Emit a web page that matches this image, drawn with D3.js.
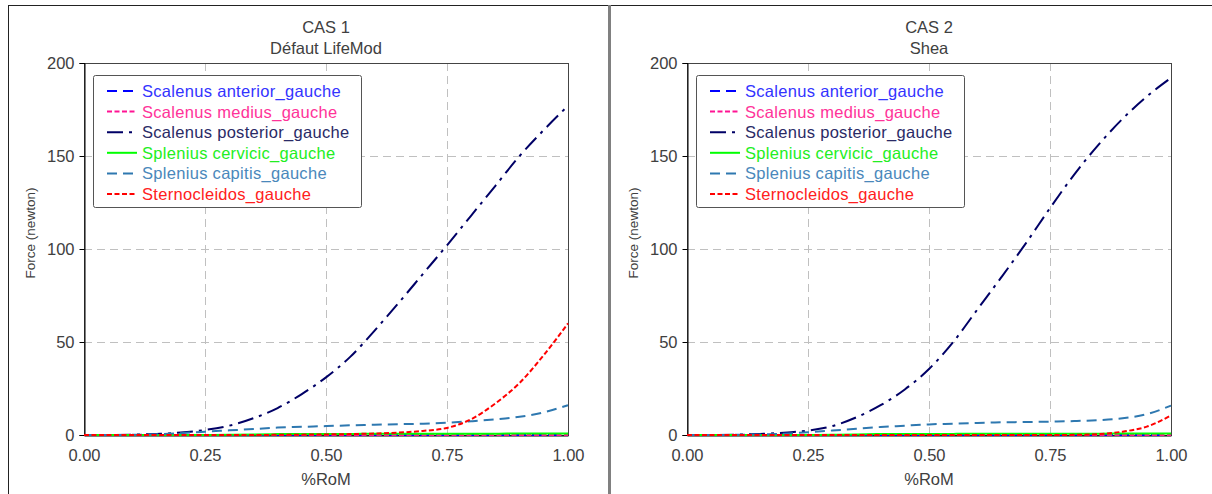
<!DOCTYPE html>
<html><head><meta charset="utf-8">
<script src="https://cdn.jsdelivr.net/npm/d3@7"></script>
<style>body{margin:0;background:#fff}svg{display:block;font-family:"Liberation Sans",Arial,sans-serif}</style>
</head><body><svg id="c" width="1212" height="494"></svg>
<script>
const xValues = [0,0.05,0.1,0.15,0.2,0.25,0.3,0.35,0.4,0.45,0.5,0.55,0.6,0.65,0.7,0.75,0.8,0.85,0.9,0.95,1.0];
const seriesNames = ["Scalenus anterior_gauche","Scalenus medius_gauche","Scalenus posterior_gauche","Splenius cervicic_gauche","Splenius capitis_gauche","Sternocleidos_gauche"];
const xTicks = [0,0.25,0.5,0.75,1.0];
const yTicks = [0,50,100,150,200];
const panelTitles = [["CAS 1","Défaut LifeMod"],["CAS 2","Shea"]];

// CAS 1
const cas1Anterior  = [0,0,0,0,0,0,0,0,0,0,0,0,0,0,0,0,0,0,0,0,0];
const cas1Medius    = [0,0,0,0,0,0,0,0,0,0,0,0,0,0,0,0,0,0,0,0,0];
const cas1Posterior = [0,0,0.2,0.6,1.3,2.7,5,9,14.5,22,31,42,56,71,86.5,102,118,134,150,164,177];
const cas1Cervicic  = [0,0,0,0,0,0,0.1,0.3,0.5,0.6,0.6,0.6,0.7,0.7,0.7,0.7,0.7,0.7,0.8,0.8,0.8];
const cas1Capitis   = [0,0,0.1,0.4,1,1.8,2.5,3.2,4,4.4,4.8,5.2,5.5,5.8,6.1,6.6,7.4,8.4,9.8,12.2,16];
const cas1Sterno    = [0,0,0,0,0,0,0,0,0.1,0.2,0.3,0.5,0.8,1.3,2.2,3.8,8.5,17,28,43,60];

// CAS 2
const cas2Anterior  = [0,0,0,0,0,0,0,0,0,0,0,0,0,0,0,0,0,0,0,0,0];
const cas2Medius    = [0,0,0,0,0,0,0,0,0,0,0,0,0,0,0,0,0,0,0,0,0];
const cas2Posterior = [0,0,0.2,0.6,1.2,2.4,4.8,9.5,16,24.5,35.5,50,67.5,85,103,122,140,156,170,182,192];
const cas2Cervicic  = [0,0,0,0,0,0,0.1,0.3,0.5,0.6,0.6,0.6,0.7,0.7,0.7,0.7,0.7,0.7,0.8,0.8,0.8];
const cas2Capitis   = [0,0,0.1,0.3,0.7,1.5,2.4,3.3,4.3,5,5.7,6.1,6.5,6.8,7,7.2,7.5,8,9,11.2,15.8];
const cas2Sterno    = [0,0,0,0,0,0,0,0,0,0,0,0,0,0,0,0,0.1,0.5,1.8,4.5,10.5];

const panelsData = [
  [cas1Anterior,cas1Medius,cas1Posterior,cas1Cervicic,cas1Capitis,cas1Sterno],
  [cas2Anterior,cas2Medius,cas2Posterior,cas2Cervicic,cas2Capitis,cas2Sterno]
];

const styles = [
  {color:"#0000ff", text:"#3333ff", dash:"10,6"},
  {color:"#ff1493", text:"#ff3399", dash:"5,2.5"},
  {color:"#000066", text:"#2a2a66", dash:"16,6,3,6"},
  {color:"#00ff00", text:"#22ee22", dash:null},
  {color:"#2e78b0", text:"#4a88bb", dash:"10,6"},
  {color:"#ff0000", text:"#ff2020", dash:"5,2.5"}
];

const FONT = "'Liberation Sans',Arial,sans-serif";
const svg = d3.select("#c");
// outer frame
svg.append("line").attr("x1",8).attr("x2",1212).attr("y1",5.5).attr("y2",5.5).attr("stroke","#222");
svg.append("line").attr("x1",8.5).attr("x2",8.5).attr("y1",5).attr("y2",494).attr("stroke","#222");
svg.append("rect").attr("x",608).attr("y",5).attr("width",3).attr("height",489).attr("fill","#808080");

const panelLeft = [84, 687];
const plotW = 484, plotTop = 63, plotBottom = 435;

panelLeft.forEach((left, pi) => {
  const g = svg.append("g");
  const x = d3.scaleLinear().domain([0,1]).range([left, left+plotW]);
  const y = d3.scaleLinear().domain([0,200]).range([plotBottom, plotTop]);

  // grid
  g.append("g").selectAll("line").data(xTicks.slice(1,-1)).join("line")
    .attr("x1",d=>Math.round(x(d))+0.5).attr("x2",d=>Math.round(x(d))+0.5)
    .attr("y1",plotTop).attr("y2",plotBottom)
    .attr("stroke","#c0c0c0").attr("stroke-dasharray","8,5");
  g.append("g").selectAll("line").data(yTicks.slice(1,-1)).join("line")
    .attr("y1",d=>Math.round(y(d))+0.5).attr("y2",d=>Math.round(y(d))+0.5)
    .attr("x1",left).attr("x2",left+plotW)
    .attr("stroke","#c0c0c0").attr("stroke-dasharray","8,5");

  // frame
  g.append("rect").attr("x",left+0.5).attr("y",plotTop+0.5).attr("width",plotW).attr("height",plotBottom-plotTop)
    .attr("fill","none").attr("stroke","#444");

  // axes
  const ya = d3.axisLeft(y).tickValues(yTicks).tickSize(5).tickPadding(5).tickFormat(d3.format("d"));
  const yg = g.append("g").attr("transform",`translate(${left+0.5},0)`).call(ya);
  const xa = d3.axisBottom(x).tickValues(xTicks).tickSize(0).tickPadding(14).tickFormat(d3.format(".2f"));
  const xg = g.append("g").attr("transform",`translate(0,${plotBottom+0.5})`).call(xa);
  [yg,xg].forEach(a=>{
    a.select(".domain").attr("stroke","#000");
    a.selectAll(".tick line").attr("stroke","#000");
    a.selectAll("text").attr("fill","#404040").style("font-size","16.5px").style("font-family",FONT);
  });

  // series lines
  const data = panelsData[pi];
  const line = d3.line().x((d,i)=>x(xValues[i])).y(d=>y(d)).curve(d3.curveMonotoneX);
  data.forEach((vals, si) => {
    const st = styles[si];
    g.append("path").attr("d", line(vals)).attr("fill","none")
      .attr("stroke", st.color).attr("stroke-width", 2)
      .attr("stroke-dasharray", st.dash);
  });

  // titles
  const cx = left + plotW/2;
  g.append("text").attr("x",cx).attr("y",33).attr("text-anchor","middle").attr("fill","#404040").style("font-size","16.5px").text(panelTitles[pi][0]);
  g.append("text").attr("x",cx).attr("y",54).attr("text-anchor","middle").attr("fill","#404040").style("font-size","16.5px").text(panelTitles[pi][1]);

  // axis labels
  g.append("text").attr("x",cx).attr("y",485).attr("text-anchor","middle").attr("fill","#404040").style("font-size","16.5px").text("%RoM");
  g.append("text").attr("transform",`translate(${left-49},233) rotate(-90)`)
    .attr("text-anchor","middle").attr("fill","#404040").style("font-size","13.5px").text("Force (newton)");

  // legend
  const lx = left + 9, ly = 75;
  const lg = g.append("g");
  lg.append("rect").attr("x",lx+0.5).attr("y",ly+0.5).attr("width",268).attr("height",132).attr("rx",2)
    .attr("fill","#fff").attr("stroke","#555");
  seriesNames.forEach((name, si) => {
    const st = styles[si];
    const ry = ly + 16 + si*20.6;
    lg.append("line").attr("x1",lx+14).attr("x2",lx+44).attr("y1",ry).attr("y2",ry)
      .attr("stroke",st.color).attr("stroke-width",2).attr("stroke-dasharray",st.dash);
    lg.append("text").attr("x",lx+49).attr("y",ry+6).attr("fill",st.text)
      .style("font-size","16.5px").style("letter-spacing","0.3px").text(name);
  });
});
</script></body></html>
